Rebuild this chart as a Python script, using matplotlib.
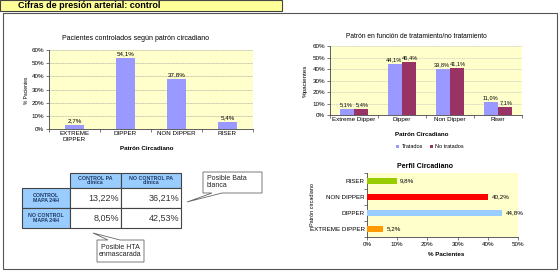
import numpy as np
import matplotlib
matplotlib.use('Agg')
import matplotlib.pyplot as plt
from matplotlib.patches import Rectangle, Polygon

plt.rcParams['font.family'] = ['Liberation Sans', 'DejaVu Sans']

# chart 1: controlled patients by circadian pattern
cats1 = ['EXTREME\nDIPPER', 'DIPPER', 'NON DIPPER', 'RISER']
vals1 = [2.7, 54.1, 37.8, 5.4]

# chart 2: treated / untreated
cats2 = ['Extreme Dipper', 'Dipper', 'Non Dipper', 'Riser']
tratados = [5.1, 44.1, 39.8, 11.0]
no_tratados = [5.4, 46.4, 41.1, 7.1]

# chart 3: circadian profile (bottom to top)
cats3 = ['EXTREME DIPPER', 'DIPPER', 'NON DIPPER', 'RISER']
vals3 = [5.2, 44.8, 40.2, 9.8]
colors3 = ['#FF9900', '#99CCFF', '#FF0000', '#99CC00']

# table
col_heads = ['CONTROL PA\nclínica', 'NO CONTROL PA\nclínica']
row_heads = ['CONTROL\nMAPA 24H', 'NO CONTROL\nMAPA 24H']
table_vals = [[13.22, 36.21], [8.05, 42.53]]

W, H = 560, 273
fig = plt.figure(figsize=(W / 100, H / 100), dpi=100)


def px_axes(x0, y0, x1, y1):
    return fig.add_axes([x0 / W, 1 - y1 / H, (x1 - x0) / W, (y1 - y0) / H])


def pct(v, nd=1):
    return f'{v:.{nd}f}%'.replace('.', ',')


def style_axes(ax):
    ax.set_facecolor('#FFFFCC')
    for s in ['top', 'right']:
        ax.spines[s].set_visible(False)
    for s in ['left', 'bottom']:
        ax.spines[s].set_color('#444444')
        ax.spines[s].set_linewidth(0.6)
    ax.tick_params(labelsize=4.5, length=2, width=0.5, color='#444444', pad=1.5)


# background layer in pixel coordinates
bg = fig.add_axes([0, 0, 1, 1])
bg.set_xlim(0, W)
bg.set_ylim(H, 0)
bg.axis('off')
bg.add_patch(Rectangle((3, 13), 554, 256, fill=False, ec='#555555', lw=0.8))
bg.add_patch(Rectangle((0, 0), 282, 11, fc='#FFFF99', ec='#444444', lw=0.8))
bg.text(18, 5.5, 'Cifras de presión arterial: control', fontsize=6.5,
        fontweight='bold', va='center')

# ---- chart 1
ax1 = px_axes(49, 50, 253, 129)
style_axes(ax1)
x = np.arange(len(cats1))
ax1.bar(x, vals1, width=0.38, color='#9999FF', zorder=3)
for xi, v in zip(x, vals1):
    ax1.text(xi, v + 1.5, pct(v), ha='center', va='bottom', fontsize=4.5)
ax1.set_xlim(-0.5, 3.5)
ax1.set_ylim(0, 60)
ax1.set_yticks(range(0, 61, 10))
ax1.set_yticklabels([f'{t}%' for t in range(0, 61, 10)])
ax1.set_xticks(x)
ax1.set_xticklabels(cats1)
ax1.tick_params(axis='x', length=0)
ax1.set_xticks(np.arange(-0.5, 4), minor=True)
ax1.tick_params(axis='x', which='minor', length=2, width=0.5, color='#444444')
ax1.grid(axis='y', color='#999999', lw=0.4, ls=(0, (2, 1)), zorder=0)
bg.text(136, 38, 'Pacientes controlados según patrón circadiano', fontsize=5,
        ha='center', va='center')
bg.text(27, 90, '% Pacientes', fontsize=3.5, rotation=90, ha='center', va='center')
bg.text(147, 148, 'Patrón Circadiano', fontsize=4.5, fontweight='bold',
        ha='center', va='center')

# ---- chart 2
ax2 = px_axes(330, 46, 522, 115)
style_axes(ax2)
x = np.arange(len(cats2))
bw = 0.29
ax2.bar(x - bw / 2, tratados, width=bw, color='#9999FF', zorder=3, label='Tratados')
ax2.bar(x + bw / 2, no_tratados, width=bw, color='#993366', zorder=3, label='No tratados')
for xi, v in zip(x, tratados):
    ax2.text(xi - bw / 2 - 0.02, v + 1.5, pct(v), ha='center', va='bottom', fontsize=4.1)
for xi, v in zip(x, no_tratados):
    ax2.text(xi + bw / 2 + 0.02, v + 1.5, pct(v), ha='center', va='bottom', fontsize=4.1)
ax2.set_xlim(-0.5, 3.5)
ax2.set_ylim(0, 60)
ax2.set_yticks(range(0, 61, 10))
ax2.set_yticklabels([f'{t}%' for t in range(0, 61, 10)])
ax2.set_xticks(x)
ax2.set_xticklabels(cats2)
ax2.tick_params(axis='x', length=0)
ax2.set_xticks(np.arange(-0.5, 4), minor=True)
ax2.tick_params(axis='x', which='minor', length=2, width=0.5, color='#444444')
ax2.grid(axis='y', color='#BBBBBB', lw=0.4, ls=(0, (2, 1)), zorder=0)
ax2.legend(loc='center', bbox_to_anchor=(430 / W, 1 - 147 / H),
           bbox_transform=fig.transFigure, ncol=2, frameon=False, fontsize=4,
           handlelength=0.6, handleheight=0.6, handletextpad=0.4, columnspacing=1.2)
bg.text(416, 36, 'Patrón en función de tratamiento/no tratamiento', fontsize=4.8,
        ha='center', va='center')
bg.text(305, 81, '%pacientes', fontsize=4.5, rotation=90, ha='center', va='center')
bg.text(422, 134, 'Patrón Circadiano', fontsize=4.5, fontweight='bold',
        ha='center', va='center')

# ---- chart 3
ax3 = px_axes(367, 173, 518, 237)
style_axes(ax3)
y = np.arange(len(cats3))
ax3.barh(y, vals3, height=0.42, color=colors3, zorder=3)
for yi, v in zip(y, vals3):
    ax3.text(v + 1.2, yi, pct(v), ha='left', va='center', fontsize=4.5)
ax3.set_xlim(0, 50)
ax3.set_ylim(-0.5, 3.5)
ax3.set_xticks(range(0, 51, 10))
ax3.set_xticklabels([f'{t}%' for t in range(0, 51, 10)])
ax3.set_yticks(y)
ax3.set_yticklabels(cats3)
ax3.tick_params(axis='y', length=0)
ax3.set_yticks(np.arange(-0.5, 4), minor=True)
ax3.tick_params(axis='y', which='minor', length=2, width=0.5, color='#444444')
bg.text(425, 166, 'Perfil Circadiano', fontsize=5, fontweight='bold',
        ha='center', va='center')
bg.text(312, 205, 'Patrón circadiano', fontsize=4, rotation=90, ha='center', va='center')
bg.text(446, 255, '% Pacientes', fontsize=4.5, fontweight='bold', ha='center', va='center')

# ---- table
xs = [22, 70, 121, 181]
ys = [173, 188, 208, 228]
head_c = '#99CCFF'
head_txt = '#1F3A60'
edge = '#444444'
for j, lab in enumerate(col_heads):
    bg.add_patch(Rectangle((xs[j + 1], ys[0]), xs[j + 2] - xs[j + 1], ys[1] - ys[0],
                           fc=head_c, ec=edge, lw=0.8))
    bg.text((xs[j + 1] + xs[j + 2]) / 2, (ys[0] + ys[1]) / 2, lab, fontsize=3.8,
            fontweight='bold', color=head_txt, ha='center', va='center', linespacing=1.0)
for i, lab in enumerate(row_heads):
    bg.add_patch(Rectangle((xs[0], ys[i + 1]), xs[1] - xs[0], ys[i + 2] - ys[i + 1],
                           fc=head_c, ec=edge, lw=0.8))
    bg.text((xs[0] + xs[1]) / 2, (ys[i + 1] + ys[i + 2]) / 2, lab, fontsize=3.8,
            fontweight='bold', color=head_txt, ha='center', va='center', linespacing=1.1)
    for j in range(2):
        bg.add_patch(Rectangle((xs[j + 1], ys[i + 1]), xs[j + 2] - xs[j + 1],
                               ys[i + 2] - ys[i + 1], fc='white', ec=edge, lw=0.8))
        bg.text(xs[j + 2] - 2, (ys[i + 1] + ys[i + 2]) / 2, pct(table_vals[i][j], 2),
                fontsize=6.5, color='#333333', ha='right', va='center')

# ---- callouts
bg.add_patch(Polygon([(203, 172), (262, 172), (262, 193), (222, 193), (187, 202),
                      (212, 193), (203, 193)], closed=True, fc='white', ec='#666666', lw=0.6))
bg.text(207, 182, 'Posible Bata\nblanca', fontsize=5, ha='left', va='center',
        color='#222222', linespacing=1.1)
bg.add_patch(Polygon([(97, 240), (108, 240), (93, 233), (120, 240), (144, 240),
                      (144, 262), (97, 262)], closed=True, fc='white', ec='#666666', lw=0.6))
bg.text(120.5, 251, 'Posible HTA\nenmascarada', fontsize=5, ha='center', va='center',
        color='#222222', linespacing=1.1)

fig.savefig('out.png', dpi=100)
